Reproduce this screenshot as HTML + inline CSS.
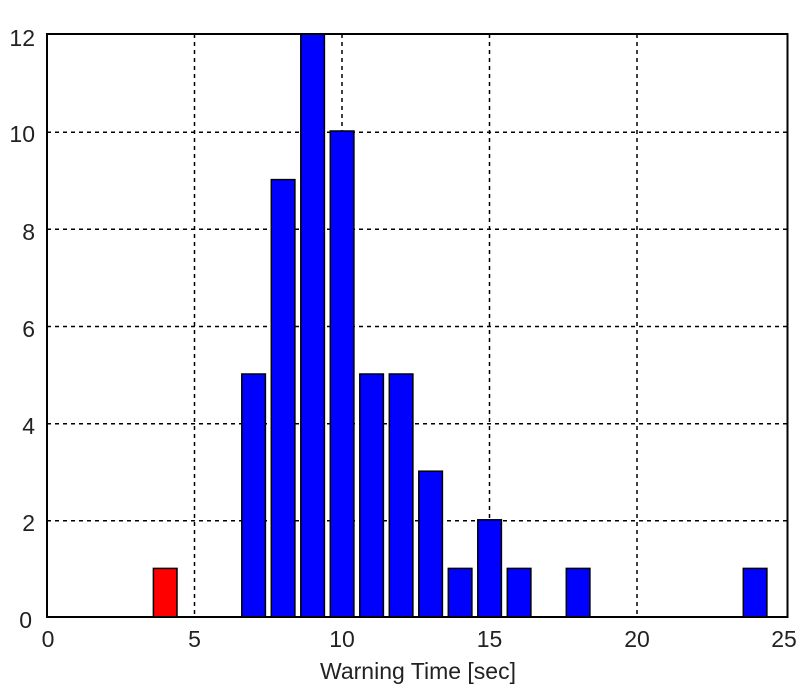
<!DOCTYPE html>
<html><head><style>body{margin:0;background:#fff}svg{display:block}text{font-family:"Liberation Sans",Arial,sans-serif;font-size:23px;fill:#222}</style></head>
<body>
<svg width="812" height="690" xmlns="http://www.w3.org/2000/svg">
<g stroke="#000" stroke-width="1.5" stroke-dasharray="4,4">
<line x1="194.5" y1="34" x2="194.5" y2="617"/>
<line x1="342" y1="34" x2="342" y2="617"/>
<line x1="489.5" y1="34" x2="489.5" y2="617"/>
<line x1="637" y1="34" x2="637" y2="617"/>
<line x1="47" y1="520.8" x2="787" y2="520.8"/>
<line x1="47" y1="423.7" x2="787" y2="423.7"/>
<line x1="47" y1="326.5" x2="787" y2="326.5"/>
<line x1="47" y1="229.3" x2="787" y2="229.3"/>
<line x1="47" y1="132.2" x2="787" y2="132.2"/>
</g>
<g stroke="#000" stroke-width="1.5" fill="#0000ff">
<rect x="153.4" y="568.4" width="23.6" height="48.6" fill="#ff0000"/>
<rect x="241.8" y="374" width="23.6" height="243"/>
<rect x="271.3" y="179.6" width="23.6" height="437.4"/>
<rect x="300.8" y="34" width="23.6" height="583"/>
<rect x="330.3" y="131" width="23.6" height="486"/>
<rect x="359.8" y="374" width="23.6" height="243"/>
<rect x="389.3" y="374" width="23.6" height="243"/>
<rect x="418.8" y="471.2" width="23.6" height="145.8"/>
<rect x="448.3" y="568.4" width="23.6" height="48.6"/>
<rect x="477.8" y="519.8" width="23.6" height="97.2"/>
<rect x="507.3" y="568.4" width="23.6" height="48.6"/>
<rect x="566.3" y="568.4" width="23.6" height="48.6"/>
<rect x="743.3" y="568.4" width="23.6" height="48.6"/>
</g>
<rect x="47" y="34" width="740.5" height="583" fill="none" stroke="#000" stroke-width="2"/>
<g text-anchor="end">
<text x="32" y="628">0</text><text x="35" y="531">2</text><text x="35" y="434">4</text>
<text x="35" y="337">6</text><text x="35" y="240">8</text><text x="35" y="142">10</text><text x="35" y="46">12</text>
</g>
<g text-anchor="middle">
<text x="48" y="647">0</text><text x="194.5" y="647">5</text><text x="342" y="647">10</text>
<text x="489.5" y="647">15</text><text x="637" y="647">20</text><text x="784" y="647">25</text>
<text x="418" y="679">Warning Time [sec]</text>
</g>
</svg>
</body></html>
